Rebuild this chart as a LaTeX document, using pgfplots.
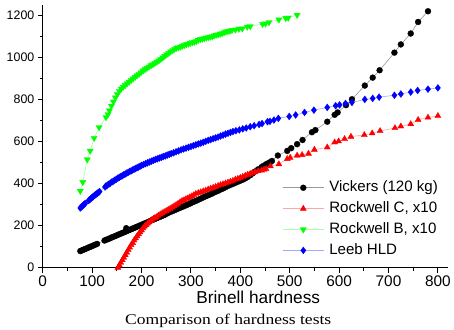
\documentclass[border=0pt]{standalone}
\usepackage{fontspec}
\setmainfont{Liberation Sans}
\newfontfamily\capfont[FakeStretch=1.18]{Liberation Serif}
\usepackage{pgfplots}
\pgfplotsset{compat=1.18}
\begin{document}
\begin{tikzpicture}
\begin{axis}[
 scale only axis, width=407.2bp, height=263.9bp,
 xmin=0, xmax=820, ymin=0, ymax=1250,
 axis lines*=left,
 axis line style={line width=1.1bp, black},
 tick align=outside,
 major tick length=5bp, minor tick length=3bp,
 tick style={black, line width=0.9bp},
 xtick={0,100,...,800}, ytick={0,200,...,1200},
 minor x tick num=1, minor y tick num=1,
 /pgf/number format/assume math mode=true,
 /pgf/number format/1000 sep={},
 x tick label style={font=\fontsize{15.5}{16}\selectfont},
 y tick label style={font=\fontsize{12.5}{13}\selectfont},
 xlabel={Brinell hardness},
 xlabel style={font=\fontsize{17.4}{18}\selectfont, at={(axis description cs:0.532,0)}, anchor=base, yshift=-35.7bp},
 legend style={draw=none, fill=none, at={(axis description cs:0.591,0.185)}, anchor=west, inner sep=0pt,
   font=\fontsize{15.2}{16}\selectfont, row sep=5bp, column sep=4bp,
   nodes={text height=11bp, text depth=3bp, inner sep=1bp}},
 legend cell align=left,
 legend image code/.code={\draw[mark repeat=2,mark phase=2] plot coordinates {(0bp,0bp) (20.8bp,0bp) (41.6bp,0bp)};},
 every axis plot/.append style={line width=0.6bp},
]
\addplot[color=black!40, mark=*, mark size=3bp, mark options={fill=black, draw=black, line width=0.3bp}] coordinates {
(76,79) (79,82) (82,85) (85,88) (88,91) (92,95) (95,98) (99,102) (102,105) (106,109) (110,113)
(125,129) (128,132) (132,136) (135,139) (139,143) (142,146) (146,150) (149,153) (153,157) (156,160) (160,164) (163,167) (167,171) (169,188) (170,174) (174,178) (177,181) (181,185) (184,188) (188,192) (191,195) (195,199) (198,202) (202,206) (205,209) (209,213) (212,216) (216,220) (219,224) (223,228) (226,231) (230,235) (233,238) (237,242) (240,245) (244,249) (247,252) (251,257) (254,261) (258,265) (262,269) (266,273) (270,277) (274,281) (278,285) (282,289) (286,293) (290,297) (294,301) (298,305) (302,310) (306,314) (310,318) (314,322) (318,327) (322,331) (326,336) (330,340) (334,344) (338,348) (342,352) (346,357) (350,361) (355,366) (360,372) (365,377) (370,383) (375,389) (380,394) (385,399) (390,404) (395,409) (400,414) (405,419) (410,425) (415,432) (420,440) (425,449) (430,458) (436,468) (443,479) (447,485) (452,492) (456,497) (461,503) (464,508) (476,534) (495,556) (503,569) (515,588) (526,608) (545,645) (552,655) (576,695) (591,728) (597,739) (614,774) (626,802) (652,867) (668,905) (682,940) (712,1024) (725,1063) (745,1115) (760,1170) (780,1221)
};
\addlegendentry{Vickers (120 kg)}
\addplot[color=red!35, mark=triangle*, mark size=3.5bp, mark options={fill=red, draw=red, line width=0.3bp}] coordinates {
(152,0) (155,12) (158,24) (161,36) (164,48) (167,60) (170,72) (173,84) (176,96) (179,108) (182,118) (185,130) (188,140) (191,150) (194,160) (197,169) (200,178) (203,188) (206,196) (209,203) (212,210) (215,216) (218,222) (221,228) (224,233) (227,237) (230,241) (234,248) (238,254) (242,260) (246,265) (250,270) (254,276) (258,281) (262,287) (266,293) (270,299) (274,305) (278,312) (282,318) (286,322) (290,327) (294,331) (298,336) (302,341) (306,346) (310,352) (315,356) (320,360) (325,364) (330,368) (335,373) (340,377) (345,381) (350,385) (355,390) (360,394) (365,398) (370,402) (375,406) (380,410) (385,414) (390,420) (395,424) (400,428) (405,433) (410,438) (415,443) (420,447) (425,451) (430,455) (436,460) (443,463) (448,467) (452,470) (461,483) (478,493) (495,518) (501,524) (515,534) (525,537) (538,543) (550,562) (576,573) (591,597) (599,602) (611,613) (624,624) (651,632) (667,640) (683,651) (713,665) (725,673) (745,684) (760,704) (780,715) (800,723)
};
\addlegendentry{Rockwell C, x10}
\addplot[color=green!35, mark=triangle*, mark size=3.6bp, mark options={fill=green, draw=green, line width=0.3bp, rotate=180}] coordinates {
(76,365) (81,407) (90,515) (96,556) (104,617) (114,668) (128,716) (132,730) (135,748) (139,770) (143,790) (147,810) (151,826) (155,841) (159,852) (163,861) (167,869) (171,877) (175,885) (179,893) (183,900) (187,908) (191,915) (195,922) (199,930) (203,938) (207,944) (211,950) (215,957) (219,963) (223,968) (227,974) (231,980) (235,986) (239,993) (243,1000) (247,1008) (251,1015) (255,1022) (259,1029) (263,1035) (267,1041) (271,1046) (275,1049) (279,1052) (283,1056) (287,1060) (291,1064) (295,1066) (299,1070) (303,1073) (307,1075) (311,1078) (315,1084) (319,1088) (323,1090) (327,1092) (331,1095) (335,1097) (339,1099) (343,1101) (347,1105) (351,1108) (355,1110) (359,1113) (363,1116) (367,1120) (371,1124) (375,1126) (379,1128) (383,1131) (390,1133) (397,1137) (404,1138) (414,1147) (420,1149) (445,1160) (451,1162) (458,1168) (478,1181) (492,1188) (497,1190) (515,1203)
};
\addlegendentry{Rockwell B, x10}
\addplot[color=blue!35, mark=diamond*, mark size=3.5bp, mark options={fill=blue, draw=blue, line width=0.3bp}] coordinates {
(76,284) (78,289) (80,293) (82,298) (84,302) (86,306) (93,320) (95,324) (97,328) (99,332) (101,336) (103,340) (105,344) (107,348) (109,351) (111,355) (113,358) (115,362) (126,384) (128,389) (131,393) (134,398) (137,403) (140,408) (143,412) (146,417) (149,421) (152,426) (155,430) (158,434) (161,438) (164,442) (167,446) (170,450) (173,454) (176,458) (179,461) (182,465) (185,469) (188,472) (191,476) (194,479) (197,483) (200,487) (204,491) (208,495) (212,499) (216,503) (220,507) (224,511) (228,515) (232,518) (236,522) (240,525) (244,529) (248,532) (252,536) (256,540) (260,543) (265,547) (270,552) (275,556) (280,561) (285,565) (290,569) (295,573) (300,577) (305,581) (310,585) (315,589) (320,593) (325,597) (330,602) (335,606) (340,610) (345,614) (350,618) (355,622) (360,627) (365,631) (370,636) (375,640) (380,644) (385,648) (391,652) (398,656) (405,661) (412,665) (420,671) (428,676) (438,682) (444,686) (455,695) (460,697) (468,703) (477,711) (499,720) (512,727) (530,739) (549,750) (576,763) (593,771) (601,775) (613,782) (626,787) (652,801) (668,806) (681,812) (712,821) (725,827) (745,836) (759,844) (780,850) (800,856)
};
\addlegendentry{Leeb HLD}
\coordinate (sw) at (rel axis cs:0,0);
\coordinate (ne) at (rel axis cs:1,1);
\coordinate (capc) at (rel axis cs:0.458,0);
\end{axis}
\node[anchor=base, font={\fontsize{15}{16}\capfont}, inner sep=0pt] at ([yshift=-57.4bp]capc) {Comparison of hardness tests};
\path[use as bounding box] ([xshift=-43bp,yshift=-61.7bp]sw) rectangle ([xshift=4.3bp,yshift=5.2bp]ne);
\end{tikzpicture}
\end{document}
